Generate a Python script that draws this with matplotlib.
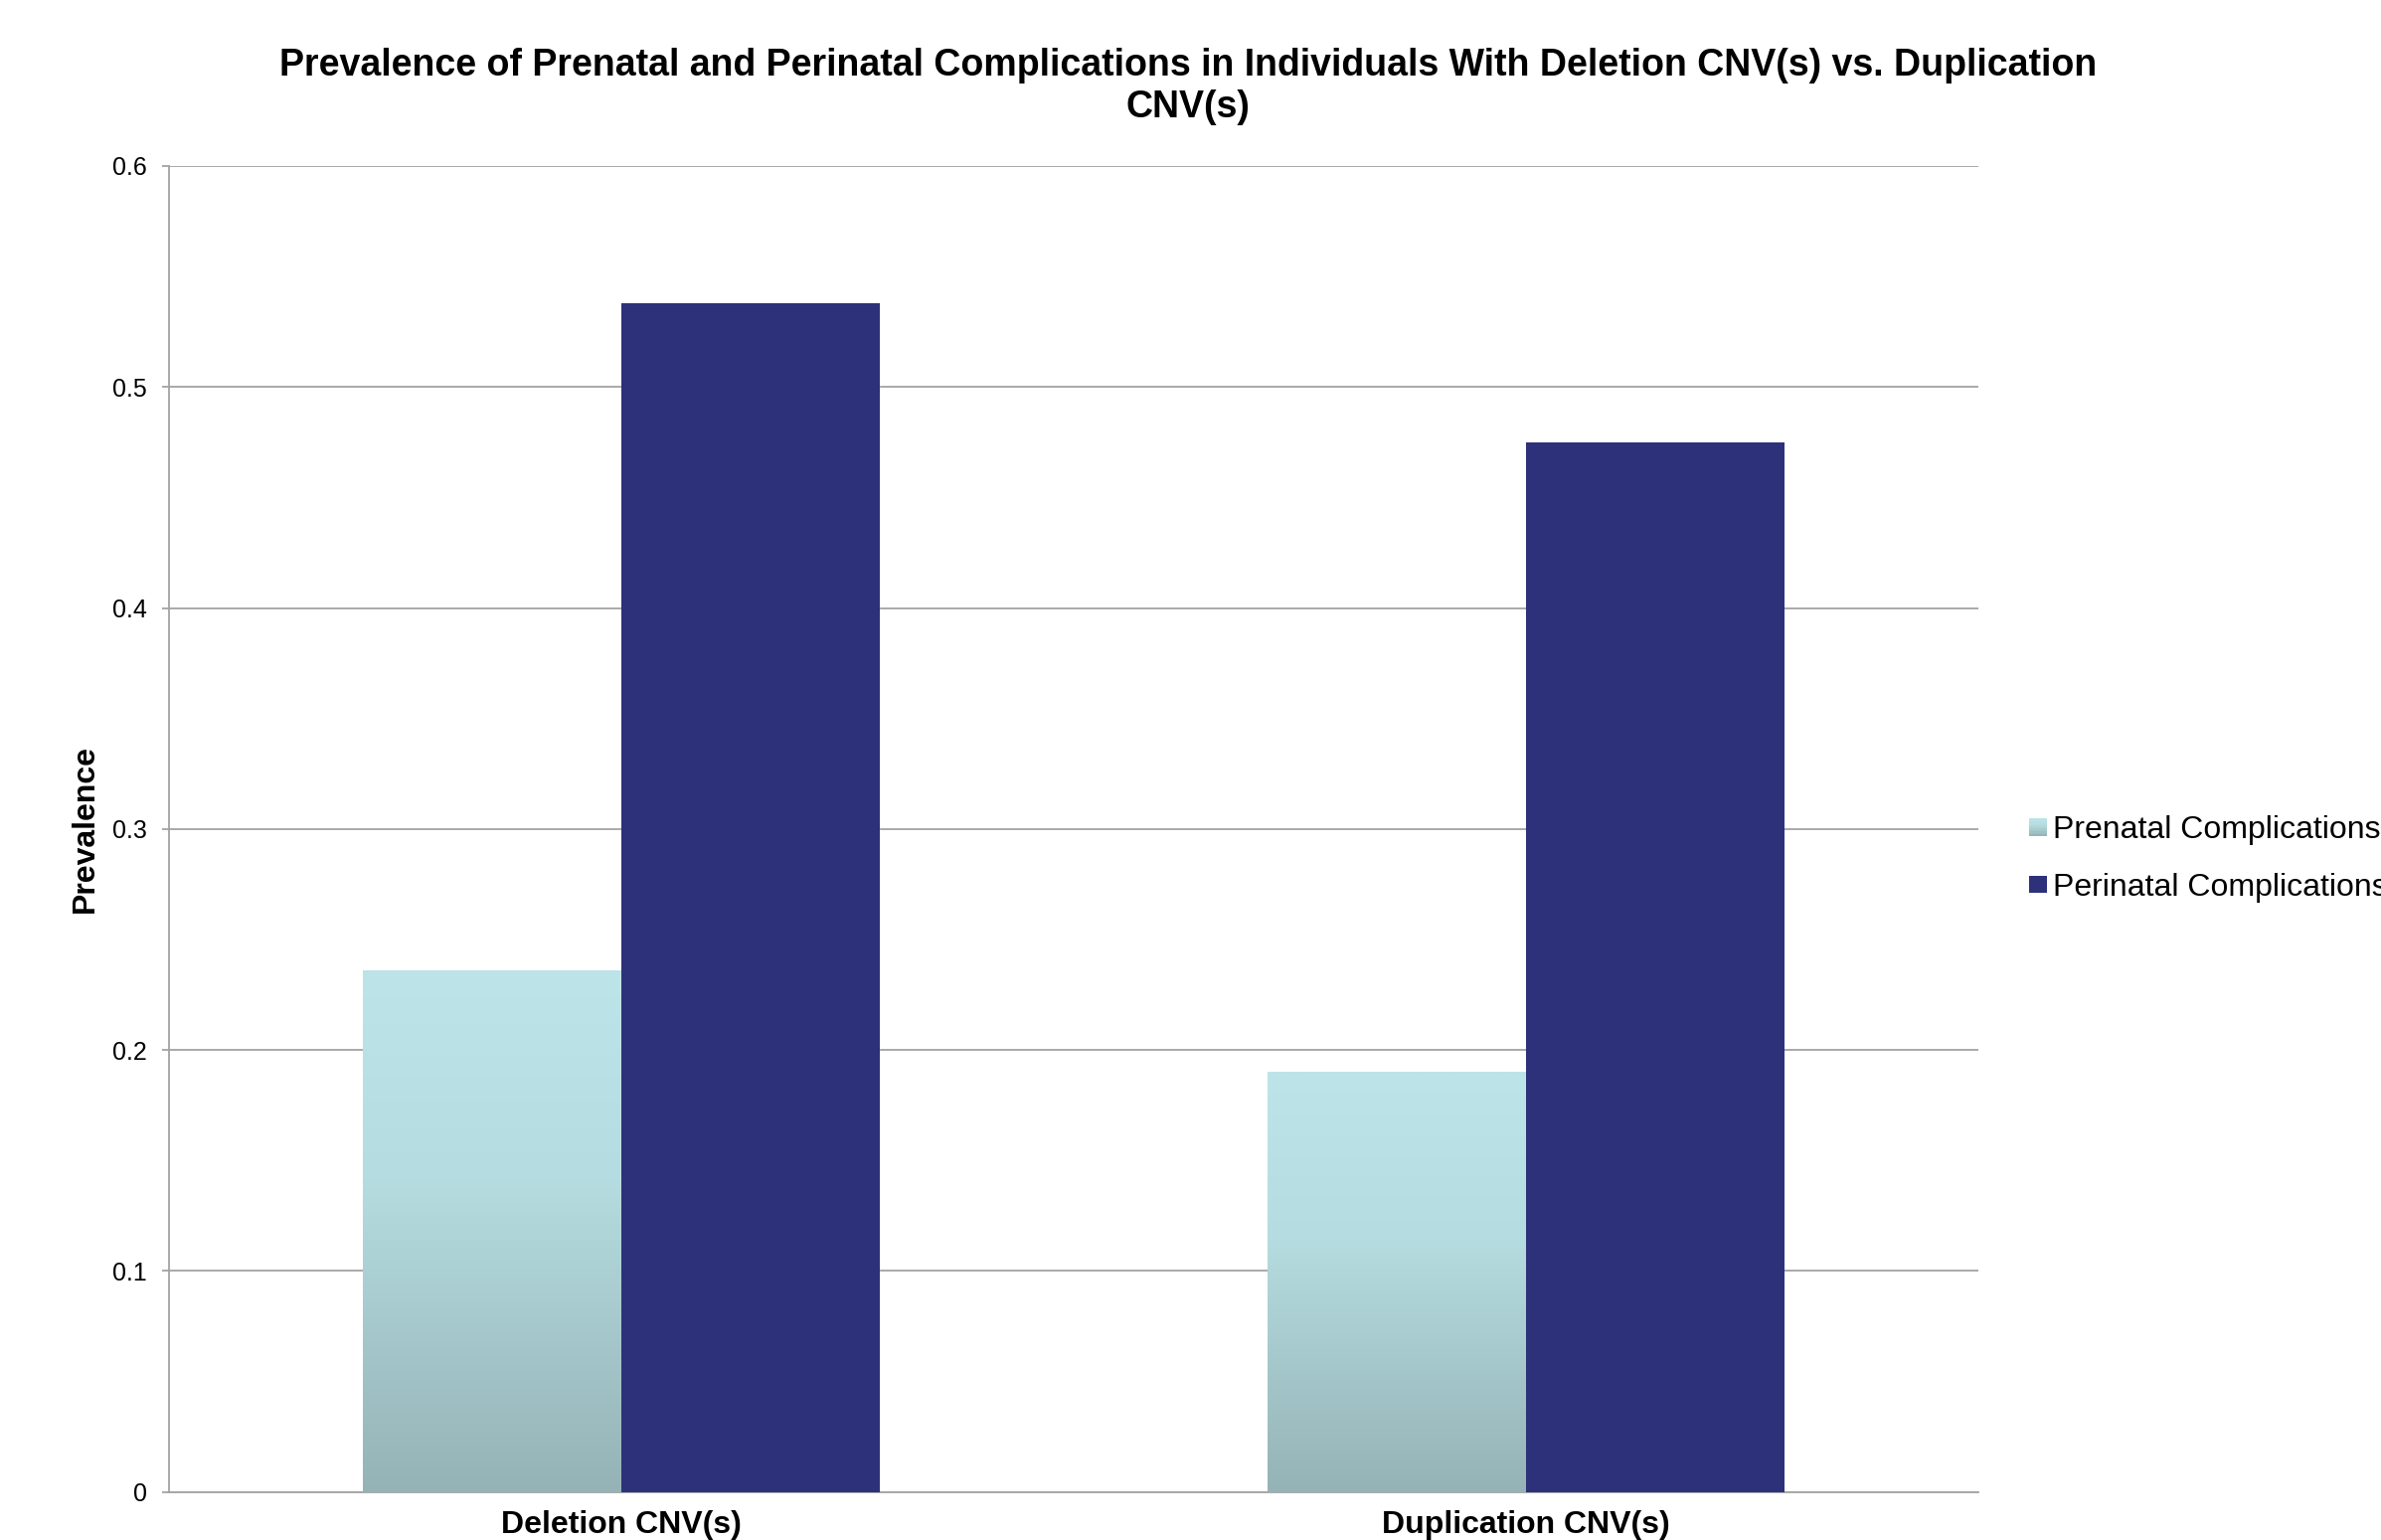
import numpy as np
import matplotlib
matplotlib.use("Agg")
import matplotlib.pyplot as plt
from matplotlib.colors import LinearSegmentedColormap
from matplotlib.legend_handler import HandlerBase
from matplotlib.patches import Rectangle

plt.rcParams['font.family'] = ['Liberation Sans', 'DejaVu Sans']

groups = ['Deletion CNV(s)', 'Duplication CNV(s)']
prenatal = [0.236, 0.190]
perinatal = [0.538, 0.475]
series_names = ['Prenatal Complications', 'Perinatal Complications']
yticks = [0, 0.1, 0.2, 0.3, 0.4, 0.5, 0.6]

navy = '#2D3179'
grid_grey = '#A3A3A3'
# light teal at the top fading to a greyer teal at the base
teal_cmap = LinearSegmentedColormap.from_list(
    'teal', [(0.0, '#95B3B6'), (0.6, '#B5DCE0'), (1.0, '#BDE4E8')])


class GradientSquare(HandlerBase):
    def create_artists(self, legend, orig_handle, xdescent, ydescent,
                       width, height, fontsize, trans):
        side = min(width, height)
        x0 = -xdescent + (width - side) / 2
        y0 = -ydescent + (height - side) / 2
        n = 12
        strips = []
        for k in range(n):
            strips.append(Rectangle((x0, y0 + side * k / n), side, side / n + 0.3,
                                    facecolor=teal_cmap((k + 0.5) / n),
                                    edgecolor='none', transform=trans))
        return strips


class SolidSquare(HandlerBase):
    def create_artists(self, legend, orig_handle, xdescent, ydescent,
                       width, height, fontsize, trans):
        side = min(width, height)
        x0 = -xdescent + (width - side) / 2
        y0 = -ydescent + (height - side) / 2
        return [Rectangle((x0, y0), side, side, facecolor=navy,
                          edgecolor='none', transform=trans)]


fig = plt.figure(figsize=(23.95, 15.49), dpi=100)
ax = fig.add_axes([0.0710, 0.0312, 0.7599, 0.8610])

x = np.arange(len(groups))
w = 1 / 3.5  # gap width of 150% between category groups
bars_pre = ax.bar(x - w / 2, prenatal, w, color='#B0D3D7', zorder=3)
bars_peri = ax.bar(x + w / 2, perinatal, w, color=navy, zorder=3)

# vertical gradient fill for the prenatal bars
grad = np.linspace(0, 1, 256).reshape(-1, 1)
for b in bars_pre:
    x0, y0 = b.get_x(), b.get_y()
    im = ax.imshow(grad, cmap=teal_cmap, origin='lower', aspect='auto',
                   extent=[x0, x0 + b.get_width(), y0, y0 + b.get_height()],
                   zorder=3.5, interpolation='bilinear')
    im.set_clip_path(b)

ax.set_xlim(-0.5, 1.5)
ax.set_ylim(0, 0.6)
ax.set_yticks(yticks)
ax.set_yticklabels(['0', '0.1', '0.2', '0.3', '0.4', '0.5', '0.6'], fontsize=18)
ax.set_xticks(x)
ax.set_xticklabels(groups, fontsize=23, fontweight='bold')

ax.yaxis.grid(True, color=grid_grey, linewidth=1.3, zorder=0)
ax.set_axisbelow(True)
for side in ['top', 'right']:
    ax.spines[side].set_visible(False)
for side in ['left', 'bottom']:
    ax.spines[side].set_color(grid_grey)
    ax.spines[side].set_linewidth(1.3)
ax.tick_params(axis='y', length=5, width=1.3, color=grid_grey, pad=11)
ax.tick_params(axis='x', length=0, pad=13)

ax.set_ylabel('Prevalence', fontsize=23, fontweight='bold', labelpad=9)

fig.text(0.499, 1 - 48 / 1549,
         'Prevalence of Prenatal and Perinatal Complications in Individuals With Deletion CNV(s) vs. Duplication\nCNV(s)',
         ha='center', va='top', fontsize=27, fontweight='bold', linespacing=1.2)

leg = ax.legend([bars_pre, bars_peri], series_names,
                handler_map={bars_pre: GradientSquare(), bars_peri: SolidSquare()},
                loc='center left', bbox_to_anchor=(0.8522, 0.4422),
                bbox_transform=fig.transFigure, frameon=False, fontsize=23,
                handlelength=0.55, handleheight=0.55, handletextpad=0.2,
                labelspacing=0.87, borderpad=0, borderaxespad=0)

fig.savefig('out.png', dpi=100)
